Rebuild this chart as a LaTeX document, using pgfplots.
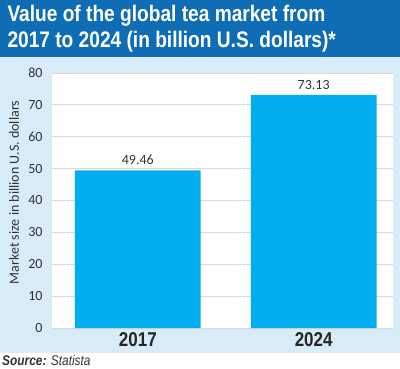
\documentclass[border=0pt]{standalone}
\usepackage{pgfplots}
\pgfplotsset{compat=1.18}
\usepackage{fontspec}
\setmainfont{Carlito}
\newfontfamily\condfont[FakeStretch=0.85]{Liberation Sans}
\definecolor{titleblue}{HTML}{0E6DB5}
\definecolor{panelblue}{HTML}{D8ECF8}
\definecolor{barblue}{HTML}{00AEEF}
\definecolor{gridgray}{HTML}{D9D9D9}
\definecolor{txt}{HTML}{333333}
\begin{document}
\begin{tikzpicture}[x=1pt,y=1pt]
\useasboundingbox (0pt,0pt) rectangle (400pt,368pt);
\fill[white] (0pt,0pt) rectangle (400pt,368pt);
\fill[panelblue] (0pt,15pt) rectangle (400pt,311pt);
\fill[titleblue] (0pt,311pt) rectangle (400pt,368pt);
\node[anchor=west,white,font=\condfont\bfseries\fontsize{22.5}{26}\selectfont,align=left] at (4pt,339.5pt) {Value of the global tea market from\\2017 to 2024 (in billion U.S. dollars)*};
\node[anchor=west,txt,font=\condfont\itshape\fontsize{14}{16}\selectfont,inner sep=0pt] at (2pt,8pt) {\textbf{Source:} Statista};
\begin{axis}[
  at={(52pt,40pt)}, anchor=south west,
  scale only axis, width=341pt, height=255pt,
  axis background/.style={fill=white},
  xmin=-0.488, xmax=1.451, ymin=0, ymax=80,
  ytick={0,10,...,80},
  xtick=data, xticklabels={2017,2024},
  ymajorgrids, grid style={gridgray, line width=0.8pt},
  axis line style={draw=none},
  major tick length=0pt,
  tick label style={txt},
  yticklabel style={font=\fontsize{14}{16}\selectfont, xshift=-6pt},
  xticklabel style={font=\condfont\bfseries\fontsize{20}{24}\selectfont, yshift=-1pt, text=black!85},
  ylabel={Market size in billion U.S. dollars},
  ylabel style={font=\fontsize{14}{16}\selectfont, txt, at={(axis description cs:0,0.5)}, anchor=center, rotate=0, yshift=38pt, xshift=8pt},
  /pgf/number format/assume math mode=true,
  nodes near coords,
  nodes near coords style={font=\fontsize{14}{16}\selectfont, txt, yshift=2pt},
  point meta=explicit symbolic,
]
\addplot[ybar, bar width=125.7pt, fill=barblue, draw=none] coordinates {(0,49.46) [49.46] (1,73.13) [73.13]};
\end{axis}
\end{tikzpicture}
\end{document}
